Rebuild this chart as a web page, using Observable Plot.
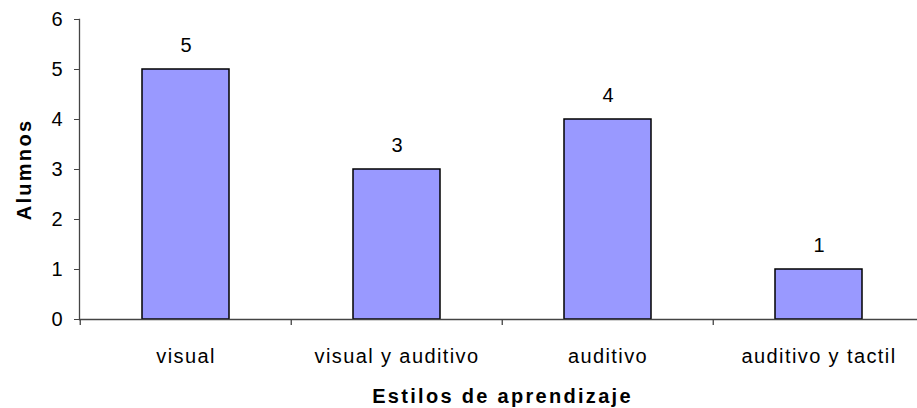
<!DOCTYPE html>
<html>
<head>
<meta charset="utf-8">
<script src="https://cdn.jsdelivr.net/npm/d3@7"></script>
<script src="https://cdn.jsdelivr.net/npm/@observablehq/plot@0.6"></script>
<style>
  html, body { margin: 0; padding: 0; background: #fff; overflow: hidden; }
  svg { font-family: "Liberation Sans", Arial, sans-serif; }
</style>
</head>
<body>
<div id="chart"></div>
<script>
const categories = ["visual", "visual y auditivo", "auditivo", "auditivo y tactil"];
const values = [5, 3, 4, 1];
const yTicks = [0, 1, 2, 3, 4, 5, 6];
const xTitle = "Estilos de aprendizaje";
const yTitle = "Alumnos";

const data = categories.map((c, i) => ({category: c, value: values[i]}));

const W = 917, H = 408;
const mL = 79, mR = -8, mT = 19, mB = 89;
const step = (W - mR - mL) / categories.length;

const chart = Plot.plot({
  width: W,
  height: H,
  marginLeft: mL,
  marginRight: mR,
  marginTop: mT,
  marginBottom: mB,
  style: {fontFamily: "'Liberation Sans', Arial, sans-serif", fontSize: "20px", color: "#000", background: "#fff", overflow: "hidden"},
  x: {domain: categories, paddingInner: 0.59, paddingOuter: 0.295, label: null},
  y: {domain: [0, 6], label: null},
  marks: [
    Plot.barY(data, {x: "category", y: "value", fill: "#9999ff", stroke: "#000", strokeWidth: 1.5}),
    Plot.text(data, {x: "category", y: "value", text: d => String(d.value), dy: -24, fontSize: 20, fill: "#000"}),
    Plot.frame({anchor: "left", stroke: "#444", strokeWidth: 1.3}),
    Plot.ruleY([0], {stroke: "#444", strokeWidth: 1.3}),
    Plot.ruleX(categories, {x: d => d, dx: -step / 2, y1: 0, y2: 0, insetBottom: -6, stroke: "#444", strokeWidth: 1.3}),
    Plot.axisY({ticks: yTicks, tickFormat: "d", tickSize: 5, tickPadding: 12, stroke: "#444", fontSize: 20, label: null}),
    Plot.axisX({tickSize: 0, tickPadding: 29, fontSize: 20, label: null}),
    Plot.text([yTitle], {frameAnchor: "left", textAnchor: "middle", lineAnchor: "middle", rotate: -90, dx: -55, fontSize: 20, fontWeight: "bold", fill: "#000"}),
    Plot.text([xTitle], {frameAnchor: "bottom", textAnchor: "middle", lineAnchor: "middle", dy: 77, fontSize: 20, fontWeight: "bold", fill: "#000"})
  ]
});
document.getElementById("chart").appendChild(chart);

const svg = d3.select(chart);
svg.selectAll("text").filter(function () { return categories.includes(this.textContent); })
  .style("letter-spacing", "1.4px");
svg.selectAll("text").filter(function () { return this.textContent === xTitle || this.textContent === yTitle; })
  .style("letter-spacing", "2.3px");
</script>
</body>
</html>
